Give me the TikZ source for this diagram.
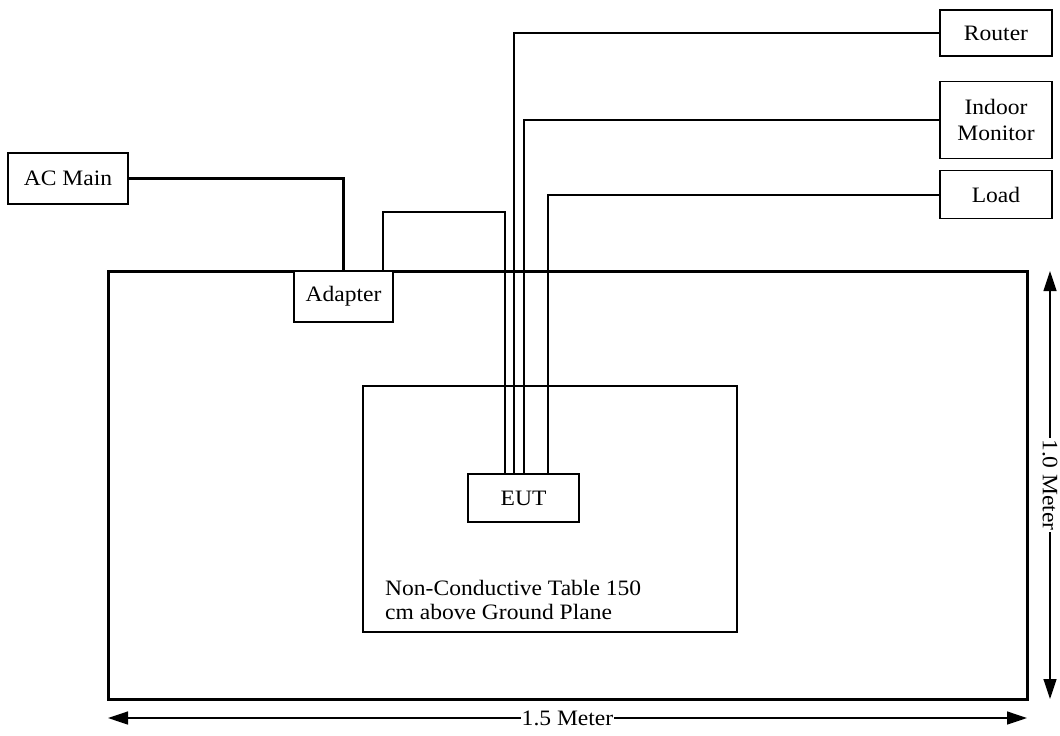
\documentclass[tikz,border=0pt]{standalone}
\usepackage{fontspec}
\setmainfont[FakeStretch=1.07]{Liberation Serif}
\usetikzlibrary{arrows.meta}
\begin{document}
\begin{tikzpicture}[x=1pt,y=-1pt,
  box/.style={draw,line width=1.3pt,inner sep=0pt,align=center,
    font=\fontsize{22}{26}\selectfont},
  wire/.style={line width=2pt},
  mainwire/.style={line width=3pt},
  dim/.style={line width=1.3pt,{Triangle[length=20pt,width=13pt]}-{Triangle[length=20pt,width=13pt]}},
  lbl/.style={fill=white,inner sep=1pt,font=\fontsize{22}{22}\selectfont}]
\useasboundingbox (0,0) rectangle (1060,736);
% ground plane and table
\draw[line width=3pt] (108,271) rectangle (1027,699);
\draw[line width=1.3pt] (363,386) rectangle (737,632);
\node[anchor=north west,inner sep=0pt,align=left,
  font=\fontsize{22}{24}\selectfont] (tabletxt) at (385,580)
  {Non-Conductive Table 150\\cm above Ground Plane};
% boxes
\node[box,fill=white,minimum width=120pt,minimum height=51pt] (acmain) at (68,178.5) {AC Main};
\node[box,fill=white,minimum width=99pt,minimum height=51pt] (adapter) at (343.5,296.5) {Adapter};
\node[box,fill=white,minimum width=111pt,minimum height=48pt] (eut) at (523.5,498) {EUT};
\node[box,minimum width=112pt,minimum height=46pt] (router) at (996,33) {Router};
\node[box,minimum width=112pt,minimum height=77pt] (monitor) at (996,120) {Indoor\\Monitor};
\node[box,minimum width=112pt,minimum height=48pt] (load) at (996,194.5) {Load};
% wire coordinates
\coordinate (a1) at (383,271);
\coordinate (c1) at (505,212);
\coordinate (xr) at (514,0);
\coordinate (xm) at (524,0);
\coordinate (xl) at (548,0);
% wires
\draw[mainwire] (acmain.east) -| (adapter.north);
\draw[wire] (a1) |- (c1) -- (c1 |- eut.north);
\draw[wire] (router.west) -| (xr |- eut.north);
\draw[wire] (monitor.west) -| (xm |- eut.north);
\draw[wire] (load.west) -| (xl |- eut.north);
% dimensions
\coordinate (hl) at (108,718);
\coordinate (hr) at (1027,718);
\coordinate (vt) at (1050,271);
\coordinate (vb) at (1050,699);
\draw[dim] (hl) -- node[lbl] (hlab) {1.5 Meter} (hr);
\draw[dim] (vt) -- node[lbl,rotate=-90] (vlab) {1.0 Meter} (vb);
\end{tikzpicture}
\end{document}
